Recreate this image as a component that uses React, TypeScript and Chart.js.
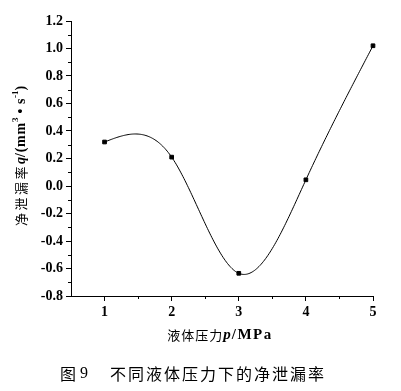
import React, { useEffect, useRef } from "react";
import { Chart, registerables } from "chart.js";

Chart.register(...registerables);

const pressures = [1, 2, 3, 4, 5];
const leakRates = [0.32, 0.21, -0.635, 0.045, 1.02];
const xTickValues = [1, 2, 3, 4, 5];
const xMinorValues = [1.5, 2.5, 3.5, 4.5];
const yTickValues = [-0.8, -0.6, -0.4, -0.2, 0.0, 0.2, 0.4, 0.6, 0.8, 1.0, 1.2];
const yMinorValues = [-0.7, -0.5, -0.3, -0.1, 0.1, 0.3, 0.5, 0.7, 0.9, 1.1];

const CJK = '"Noto Sans CJK SC"';
const SERIF = '"Liberation Serif", "Times New Roman", serif';

type Run = { text: string; font: string; dy?: number; ls?: number };

function runWidth(ctx: CanvasRenderingContext2D, r: Run) {
  ctx.font = r.font;
  (ctx as any).letterSpacing = (r.ls || 0) + "px";
  return ctx.measureText(r.text).width;
}

function drawRuns(ctx: CanvasRenderingContext2D, runs: Run[], x: number, y: number, align: "center" | "left") {
  let total = 0;
  for (const r of runs) total += runWidth(ctx, r);
  let cx = align === "center" ? x - total / 2 : x;
  ctx.textAlign = "left";
  ctx.textBaseline = "middle";
  ctx.fillStyle = "#000";
  for (const r of runs) {
    const w = runWidth(ctx, r);
    ctx.fillText(r.text, cx, y + (r.dy || 0));
    cx += w;
  }
  (ctx as any).letterSpacing = "0px";
}

// Natural cubic spline second derivatives (rendering of the smooth line, like Origin's spline connector)
function splineM(xs: number[], ys: number[]) {
  const n = xs.length;
  const M = new Array(n).fill(0);
  if (n < 3) return M;
  const a: number[] = [], b: number[] = [], c: number[] = [], d: number[] = [];
  for (let i = 1; i < n - 1; i++) {
    const h0 = xs[i] - xs[i - 1];
    const h1 = xs[i + 1] - xs[i];
    a.push(h0);
    b.push(2 * (h0 + h1));
    c.push(h1);
    d.push(6 * ((ys[i + 1] - ys[i]) / h1 - (ys[i] - ys[i - 1]) / h0));
  }
  const m = b.length;
  for (let i = 1; i < m; i++) {
    const w = a[i] / b[i - 1];
    b[i] -= w * c[i - 1];
    d[i] -= w * d[i - 1];
  }
  const sol = new Array(m).fill(0);
  sol[m - 1] = d[m - 1] / b[m - 1];
  for (let i = m - 2; i >= 0; i--) sol[i] = (d[i] - c[i] * sol[i + 1]) / b[i];
  for (let i = 0; i < m; i++) M[i + 1] = sol[i];
  return M;
}

const splinePlugin = {
  id: "splineLine",
  beforeDatasetsDraw(chart: any) {
    const ctx: CanvasRenderingContext2D = chart.ctx;
    const sx = chart.scales.x;
    const sy = chart.scales.y;
    const X = pressures;
    const Y = leakRates;
    const M = splineM(X, Y);
    ctx.save();
    ctx.strokeStyle = "#000";
    ctx.lineWidth = 1;
    ctx.beginPath();
    let first = true;
    for (let i = 0; i < X.length - 1; i++) {
      const h = X[i + 1] - X[i];
      const steps = 60;
      for (let k = 0; k <= steps; k++) {
        const t = k / steps;
        const u = 1 - t;
        const xv = X[i] + t * h;
        const yv =
          Y[i] * u + Y[i + 1] * t + ((u * u * u - u) * M[i] + (t * t * t - t) * M[i + 1]) * (h * h) / 6;
        const px = sx.getPixelForValue(xv);
        const py = sy.getPixelForValue(yv);
        if (first) {
          ctx.moveTo(px, py);
          first = false;
        } else ctx.lineTo(px, py);
      }
    }
    ctx.stroke();
    ctx.restore();
  },
};

const decorPlugin = {
  id: "decor",
  afterDraw(chart: any) {
    const ctx: CanvasRenderingContext2D = chart.ctx;
    const xs = chart.scales.x;
    const ys = chart.scales.y;
    const area = chart.chartArea;
    ctx.save();
    ctx.strokeStyle = "#000";
    ctx.lineWidth = 1;
    ctx.beginPath();
    for (const v of yMinorValues) {
      const py = Math.round(ys.getPixelForValue(v)) + 0.5;
      ctx.moveTo(area.left - 3, py);
      ctx.lineTo(area.left, py);
    }
    for (const v of xMinorValues) {
      const px = Math.round(xs.getPixelForValue(v)) + 0.5;
      ctx.moveTo(px, area.bottom);
      ctx.lineTo(px, area.bottom + 3);
    }
    ctx.stroke();

    // y-axis title
    ctx.save();
    ctx.translate(21, 156);
    ctx.rotate(-Math.PI / 2);
    drawRuns(
      ctx,
      [
        { text: "净泄漏率", font: `13px ${CJK}`, ls: 2.5 },
        { text: "q", font: `italic bold 14px ${SERIF}` },
        { text: "/(mm", font: `bold 14px ${SERIF}`, ls: 0.8 },
        { text: "3", font: `bold 9px ${SERIF}`, dy: -5 },
        { text: " • s", font: `bold 14px ${SERIF}`, ls: 0.5 },
        { text: "-1", font: `bold 9px ${SERIF}`, dy: -5 },
        { text: ")", font: `bold 14px ${SERIF}` },
      ],
      0,
      0,
      "center"
    );
    ctx.restore();

    // x-axis title
    drawRuns(
      ctx,
      [
        { text: "液体压力", font: `13px ${CJK}`, ls: 1 },
        { text: "p", font: `italic bold 15px ${SERIF}`, ls: 1 },
        { text: "/MPa", font: `bold 15px ${SERIF}`, ls: 1.5 },
      ],
      (area.left + area.right) / 2 - 2,
      335,
      "center"
    );

    // caption
    drawRuns(
      ctx,
      [
        { text: "图", font: `16px ${CJK}` },
        { text: " 9", font: `16px ${SERIF}` },
      ],
      60,
      374,
      "left"
    );
    drawRuns(ctx, [{ text: "不同液体压力下的净泄漏率", font: `16px ${CJK}`, ls: 2 }], 110, 374, "left");
    ctx.restore();
  },
};

export default function App() {
  const ref = useRef<HTMLCanvasElement | null>(null);
  useEffect(() => {
    if (!ref.current) return;
    const chart = new Chart(ref.current, {
      type: "line",
      data: {
        datasets: [
          {
            data: pressures.map((p, i) => ({ x: p, y: leakRates[i] })),
            borderColor: "#000",
            backgroundColor: "#000",
            borderWidth: 1,
            showLine: false,
            pointStyle: "rect",
            pointRadius: 2.6,
            pointHoverRadius: 2.6,
            clip: false as any,
          },
        ],
      },
      options: {
        animation: false,
        responsive: true,
        maintainAspectRatio: false,
        layout: { padding: { left: 0, top: 21, right: 28, bottom: 0 } },
        plugins: { legend: { display: false }, tooltip: { enabled: false }, title: { display: false } },
        scales: {
          x: {
            type: "linear",
            min: 0.5,
            max: 5,
            afterBuildTicks: (s: any) => {
              s.ticks = xTickValues.map((v) => ({ value: v }));
            },
            afterFit: (s: any) => {
              s.height = 95;
            },
            grid: { drawOnChartArea: false, drawTicks: true, tickLength: 5, color: "#000", lineWidth: 1 },
            border: { display: true, color: "#000", width: 1 },
            ticks: {
              color: "#000",
              padding: 3,
              font: { family: SERIF, weight: "bold", size: 14 },
              callback: (v: any) => String(v),
            },
          },
          y: {
            type: "linear",
            min: -0.8,
            max: 1.2,
            afterBuildTicks: (s: any) => {
              s.ticks = yTickValues.map((v) => ({ value: v }));
            },
            afterFit: (s: any) => {
              s.width = 71;
            },
            grid: { drawOnChartArea: false, drawTicks: true, tickLength: 5, color: "#000", lineWidth: 1 },
            border: { display: true, color: "#000", width: 1 },
            ticks: {
              color: "#000",
              padding: 3,
              font: { family: SERIF, weight: "bold", size: 14 },
              callback: (v: any) => Number(v).toFixed(1),
            },
          },
        },
      },
      plugins: [splinePlugin, decorPlugin],
    });
    return () => chart.destroy();
  }, []);
  return (
    <div style={{ position: "fixed", left: 0, top: 0, width: 401, height: 391, background: "#fff" }}>
      <canvas ref={ref} />
    </div>
  );
}
